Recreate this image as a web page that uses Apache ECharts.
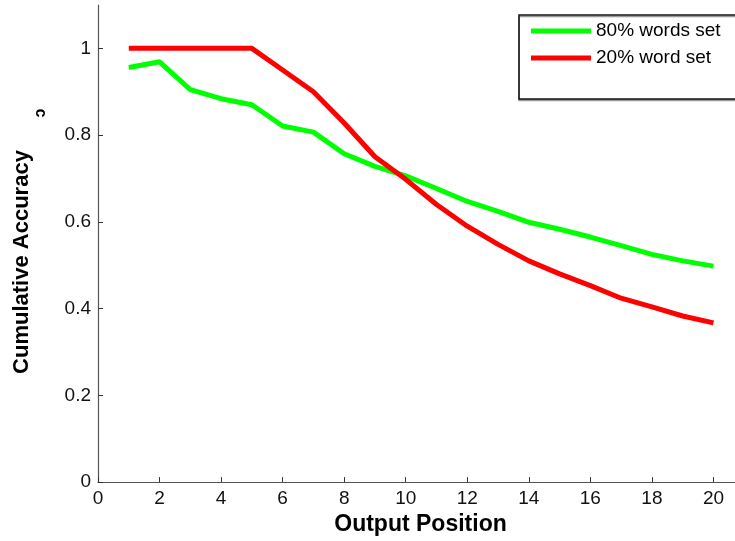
<!DOCTYPE html>
<html>
<head>
<meta charset="utf-8">
<script src="https://cdn.jsdelivr.net/npm/echarts@6/dist/echarts.min.js"></script>
<style>
html,body{margin:0;padding:0;background:#fff;}
#chart{width:735px;height:541px;}
</style>
</head>
<body>
<div id="chart"></div>
<script>
var positions = [1,2,3,4,5,6,7,8,9,10,11,12,13,14,15,16,17,18,19,20];
var words80 = [0.956,0.969,0.905,0.884,0.870,0.821,0.807,0.757,0.728,0.706,0.677,0.647,0.624,0.599,0.583,0.565,0.545,0.525,0.510,0.498];
var word20 = [1,1,1,1,1,0.950,0.900,0.828,0.750,0.698,0.640,0.590,0.548,0.510,0.480,0.453,0.424,0.404,0.383,0.367];
var seriesNames = ['80% words set', '20% word set'];
var xTitle = 'Output Position';
var yTitle = 'Cumulative Accuracy';

var FONT = 'Arial, "Liberation Sans", Helvetica, sans-serif';
function pairs(xs, ys){ return xs.map(function(x,i){ return [x, ys[i]]; }); }

var chart = echarts.init(document.getElementById('chart'), null, {renderer:'canvas'});
chart.setOption({
  backgroundColor: '#ffffff',
  animation: false,
  grid: {left: 98, top: 5, right: 0, height: 479, containLabel: false},
  xAxis: {
    type: 'value', min: 0, max: 20.7, interval: 2,
    name: xTitle, nameLocation: 'middle', nameGap: 23,
    nameTextStyle: {fontFamily: FONT, fontSize: 23, fontWeight: 'bold', color: '#000', padding: [0, 0, 0, 8]},
    axisLine: {show: true, onZero: false, lineStyle: {color: '#555', width: 1.2}},
    axisTick: {show: true, inside: true, length: 5, lineStyle: {color: '#333'}},
    axisLabel: {fontFamily: FONT, fontSize: 19, color: '#111', margin: 7, showMaxLabel: false},
    splitLine: {show: false}
  },
  yAxis: {
    type: 'value', min: 0, max: 1.1, interval: 0.2,
    axisLine: {show: true, onZero: false, lineStyle: {color: '#555', width: 1.2}},
    axisTick: {show: true, inside: true, length: 5, lineStyle: {color: '#333'}},
    axisLabel: {fontFamily: FONT, fontSize: 19, color: '#111', margin: 7, showMaxLabel: false},
    splitLine: {show: false}
  },
  legend: {
    orient: 'vertical', left: 519, top: 15,
    padding: [5, 60, 30, 12], itemGap: 5,
    icon: 'rect', itemWidth: 60, itemHeight: 5,
    backgroundColor: '#fff', borderColor: '#111', borderWidth: 1.5,
    shadowColor: '#999', shadowOffsetX: 0, shadowOffsetY: 1.5, shadowBlur: 0,
    textStyle: {fontFamily: FONT, fontSize: 19, color: '#000', lineHeight: 22},
    data: seriesNames
  },
  graphic: [
    {type: 'text', x: 22, y: 262, rotation: Math.PI/2,
     style: {text: yTitle, font: 'bold 22px ' + FONT, fill: '#000', textAlign: 'center', textVerticalAlign: 'middle'}},
    {type: 'text', x: 40, y: 113, rotation: -Math.PI/2,
     style: {text: 'c', font: 'bold 16px ' + FONT, fill: '#000', textAlign: 'center', textVerticalAlign: 'middle'}}
  ],
  series: [
    {name: seriesNames[0], type: 'line', data: pairs(positions, words80), symbol: 'none',
     lineStyle: {color: '#00ff00', width: 5}, itemStyle: {color: '#00ff00'}},
    {name: seriesNames[1], type: 'line', data: pairs(positions, word20), symbol: 'none',
     lineStyle: {color: '#ff0000', width: 5}, itemStyle: {color: '#ff0000'}}
  ]
});
</script>
</body>
</html>
